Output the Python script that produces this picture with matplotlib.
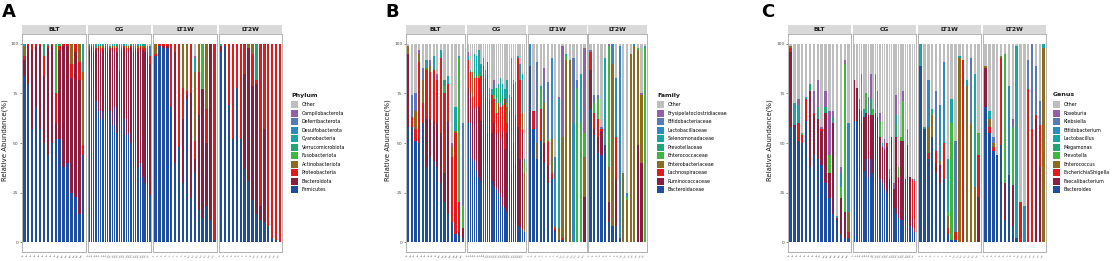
import matplotlib.pyplot as plt
import numpy as np
from matplotlib.patches import Patch

W, H = 1114, 261

groups = ["BLT", "CG", "LT1W", "LT2W"]
group_prefix = ["B", "C", "L", "T"]
group_sizes = [16, 27, 16, 16]
N = sum(group_sizes)

# colours bottom -> top of the stack, then "Other"
taxa_colors = ["#1F4E9C", "#8B1E3F", "#E31A1C", "#8B6B1E", "#3CB83C",
               "#1FA673", "#18A5A5", "#2A8AC4", "#5B79B7", "#9160A8"]
other_color = "#BEBEBE"

# ---------------- Phylum (panel A) ----------------
phylum_names = ["Firmicutes", "Bacteroidota", "Proteobacteria", "Actinobacteriota",
                "Fusobacteriota", "Verrucomicrobiota", "Cyanobacteria",
                "Desulfobacterota", "Deferribacterota", "Campilobacterota"]
phy_firmicutes = ([84, 80, 57, 68, 57, 50, 44, 50, 52, 52, 38, 40, 25, 23, 14, 44] +
                  [89, 86, 78, 71, 66, 62, 66, 60, 67, 66, 59, 68, 55, 64, 45, 62, 54, 55, 50, 37, 50, 38, 40, 33, 30, 26, 24] +
                  [94, 99, 98, 98, 68, 40, 48, 30, 72, 22, 35, 16, 12, 18, 11, 1] +
                  [96, 99, 69, 52, 78, 52, 37, 31, 21, 14, 11, 10, 8, 2, 1, 0])
phy_bacteroidota = ([8, 19, 40, 31, 42, 34, 54, 49, 8, 45, 61, 59, 58, 73, 68, 0] +
                    [8, 12, 18, 26, 32, 34, 31, 38, 29, 31, 39, 29, 41, 22, 52, 36, 42, 42, 48, 59, 47, 58, 58, 64, 66, 67, 66] +
                    [0, 0, 1, 1, 0, 56, 0, 32, 2, 53, 7, 48, 65, 32, 89, 0] +
                    [3, 0, 0, 0, 0, 0, 48, 67, 58, 66, 7, 47, 0, 0, 0, 0])
phy_proteobacteria = ([2, 1, 3, 1, 1, 10, 1, 1, 15, 2, 1, 1, 7, 4, 9, 5] +
                      [2, 1, 2, 1, 1, 2, 1, 1, 2, 1, 1, 1, 2, 1, 1, 1, 2, 1, 1, 2, 1, 2, 1, 1, 2, 3, 4] +
                      [1, 1, 1, 1, 32, 4, 52, 16, 2, 25, 9, 22, 0, 17, 0, 99] +
                      [0, 1, 31, 48, 22, 48, 15, 0, 16, 2, 82, 43, 92, 98, 99, 100])
phy_actinobacteriota = ([5, 0, 0, 0, 0, 0, 0, 0, 0, 0, 0, 0, 10, 0, 9, 37] +
                        [0, 0, 1, 0, 0, 1, 1, 0, 1, 0, 0, 1, 1, 12, 0, 0, 1, 1, 0, 1, 1, 1, 0, 1, 1, 2, 0] +
                        [5, 0, 0, 0, 0, 0, 0, 22, 24, 0, 35, 14, 0, 33, 0, 0] +
                        [0, 0, 0, 0, 0, 0, 0, 2, 5, 0, 0, 0, 0, 0, 0, 0])
phy_fusobacteriota = ([0, 0, 0, 0, 0, 0, 0, 0, 25, 0, 0, 0, 0, 0, 0, 0] +
                      [0] * 27 +
                      [0, 0, 0, 0, 0, 0, 0, 0, 0, 0, 0, 0, 23, 0, 0, 0] +
                      [0] * 16)
phy_verrucomicrobiota = ([0, 0, 0, 0, 0, 6, 1, 0, 0, 1, 0, 0, 0, 0, 0, 0] +
                         [1, 1, 0, 1, 1, 0, 0, 1, 0, 1, 0, 0, 1, 0, 1, 0, 0, 0, 1, 0, 0, 0, 0, 1, 0, 0, 0] +
                         [0] * 16 +
                         [1, 0, 0, 0, 0, 0, 0, 0, 0, 18, 0, 0, 0, 0, 0, 0])
phy_cyanobacteria = ([1, 0, 0, 0, 0, 0, 0, 0, 0, 0, 0, 0, 0, 0, 0, 14] +
                     [0, 0, 1, 1, 0, 1, 1, 0, 1, 0, 1, 1, 0, 1, 1, 1, 1, 0, 0, 1, 1, 1, 1, 0, 1, 1, 0] +
                     [0, 0, 0, 0, 0, 0, 0, 0, 0, 0, 7, 0, 0, 0, 0, 0] +
                     [0] * 16)
phy_desulfobacterota = [0] * N
phy_deferribacterota = [0] * 16 + [0] * 26 + [5] + [0] * 32
phy_campilobacterota = [0] * 16 + [0] * 27 + [0, 0, 0, 0, 0, 0, 0, 0, 0, 0, 1, 0, 0, 0, 0, 0] + [0] * 16

# ---------------- Family (panel B) ----------------
family_names = ["Bacteroidaceae", "Ruminococcaceae", "Lachnospiraceae", "Enterobacteriaceae",
                "Enterococcaceae", "Prevotellaceae", "Selenomonadaceae", "Lactobacillaceae",
                "Bifidobacteriaceae", "Erysipelatoclostridiaceae"]
fam_bacteroidaceae = ([58, 58, 51, 50, 60, 38, 43, 41, 38, 30, 20, 14, 10, 4, 3, 2] +
                      [60, 60, 42, 41, 36, 33, 31, 41, 33, 40, 31, 31, 28, 27, 25, 23, 18, 17, 15, 12, 11, 10, 9, 8, 7, 6, 5] +
                      [89, 57, 42, 51, 40, 30, 32, 5, 1, 1, 0, 0, 0, 0, 0, 0] +
                      [67, 54, 45, 44, 49, 10, 8, 8, 2, 0, 0, 0, 0, 0, 0, 0])
fam_ruminococcaceae = ([37, 0, 0, 0, 0, 24, 19, 20, 22, 25, 15, 47, 0, 0, 2, 5] +
                       [18, 15, 25, 27, 32, 35, 30, 20, 40, 15, 35, 24, 32, 28, 30, 29, 38, 30, 40, 34, 24, 40, 30, 50, 35, 49, 0] +
                       [0, 0, 0, 0, 10, 9, 0, 1, 0, 0, 0, 0, 0, 0, 0, 23] +
                       [20, 3, 8, 12, 0, 10, 0, 24, 0, 0, 0, 0, 0, 49, 40, 0])
fam_lachnospiraceae = ([0, 5, 6, 41, 10, 25, 24, 26, 22, 38, 40, 19, 33, 51, 15, 0] +
                       [14, 11, 6, 15, 16, 15, 23, 28, 10, 36, 6, 19, 12, 10, 15, 16, 13, 25, 5, 20, 38, 30, 25, 35, 40, 2, 0] +
                       [0, 9, 0, 16, 0, 12, 3, 1, 0, 1, 0, 0, 0, 0, 0, 0] +
                       [9, 8, 9, 1, 0, 0, 0, 21, 0, 0, 0, 0, 0, 0, 0, 0])
fam_enterobacteriaceae = ([4, 0, 9, 4, 12, 1, 3, 0, 0, 0, 0, 0, 5, 1, 0, 0] +
                          [0, 0, 13, 0, 0, 0, 0, 0, 0, 0, 0, 0, 0, 0, 0, 0, 0, 0, 8, 0, 0, 0, 0, 0, 0, 8, 30] +
                          [0, 0, 8, 0, 20, 0, 17, 1, 6, 51, 92, 92, 0, 0, 0, 20] +
                          [0, 0, 0, 0, 0, 18, 82, 0, 0, 35, 21, 95, 99, 48, 34, 0])
fam_enterococcaceae = ([0, 0, 0, 0, 0, 0, 0, 0, 0, 0, 4, 0, 0, 0, 73, 11] +
                       [0, 0, 0, 0, 0, 2, 0, 0, 0, 0, 0, 0, 2, 5, 8, 0, 0, 0, 2, 0, 0, 0, 0, 0, 0, 0, 5] +
                       [0, 0, 0, 10, 0, 1, 0, 0, 0, 0, 2, 0, 0, 78, 60, 12] +
                       [0, 5, 10, 0, 0, 61, 0, 0, 0, 0, 2, 0, 0, 1, 0, 98])
fam_prevotellaceae = ([0, 0, 0, 0, 0, 0, 0, 1, 0, 0, 3, 0, 0, 0, 0, 0] +
                      [0, 0, 0, 4, 0, 0, 2, 0, 0, 0, 3, 0, 4, 0, 0, 0, 5, 0, 0, 3, 0, 0, 2, 0, 0, 0, 2] +
                      [0] * 16 +
                      [0] * 16)
fam_selenomonadaceae = ([0, 0, 0, 0, 0, 4, 0, 6, 0, 4, 0, 4, 0, 12, 1, 0] +
                        [2, 1, 0, 8, 10, 12, 4, 3, 4, 0, 3, 3, 0, 8, 2, 15, 6, 5, 12, 5, 20, 2, 13, 1, 8, 20, 0] +
                        [0, 0, 0, 2, 0, 0, 0, 0, 65, 0, 1, 0, 0, 0, 25, 0] +
                        [0, 0, 0, 0, 44, 0, 0, 0, 0, 0, 0, 0, 0, 0, 0, 1])
fam_lactobacillaceae = ([0] * 16 +
                        [0] * 27 +
                        [11, 0, 0, 0, 0, 0, 41, 35, 0, 0, 0, 0, 60, 0, 0, 0] +
                        [0, 0, 0, 0, 0, 0, 10, 30, 97, 0, 2, 0, 1, 0, 0, 0])
fam_bifidobacteriaceae = ([0, 11, 9, 0, 6, 0, 0, 0, 0, 0, 0, 0, 0, 0, 0, 42] +
                          [0, 0, 0, 0, 0, 0, 0, 0, 0, 0, 0, 0, 2, 0, 0, 0, 0, 0, 0, 0, 0, 0, 0, 0, 0, 0, 0] +
                          [0, 0, 41, 0, 11, 29, 0, 0, 0, 0, 0, 0, 33, 4, 0, 0] +
                          [0, 4, 2, 1, 0, 0, 0, 0, 0, 0, 0, 0, 0, 0, 0, 0])
fam_erysipelatoclostridiaceae = ([0, 0, 0, 2, 0, 0, 3, 0, 3, 0, 0, 0, 2, 0, 0, 0] +
                                 [2, 0, 0, 0, 0, 0, 0, 1, 0, 0, 0, 0, 2, 0, 0, 0, 0, 0, 0, 0, 0, 0, 2, 0, 0, 0, 0] +
                                 [0, 0, 0, 0, 7, 0, 0, 0, 1, 46, 0, 0, 0, 0, 0, 43] +
                                 [1, 0, 0, 0, 0, 1, 0, 0, 0, 0, 0, 0, 0, 0, 1, 0])

# ---------------- Genus (panel C) ----------------
genus_names = ["Bacteroides", "Faecalibacterium", "EscherichiaShigella", "Enterococcus",
               "Prevotella", "Megamonas", "Lactobacillus", "Bifidobacterium",
               "Klebsiella", "Roseburia"]
gen_bacteroides = ([58, 58, 51, 50, 61, 38, 44, 42, 39, 30, 22, 14, 11, 4, 2, 2] +
                   [61, 61, 43, 40, 36, 42, 33, 42, 35, 43, 33, 32, 30, 27, 25, 24, 18, 17, 14, 12, 11, 11, 10, 9, 8, 7, 5] +
                   [89, 57, 42, 53, 35, 30, 32, 4, 1, 1, 0, 0, 0, 0, 0, 0] +
                   [68, 55, 46, 44, 49, 11, 34, 8, 2, 0, 0, 0, 0, 0, 0, 0])
gen_faecalibacterium = ([38, 1, 0, 0, 0, 38, 20, 20, 17, 35, 13, 46, 1, 18, 13, 0] +
                        [21, 17, 24, 20, 27, 23, 31, 22, 29, 22, 30, 21, 18, 20, 23, 8, 35, 10, 39, 21, 40, 40, 22, 40, 25, 5, 0] +
                        [0, 0, 0, 0, 5, 9, 0, 0, 0, 0, 0, 0, 0, 0, 0, 23] +
                        [20, 0, 0, 0, 0, 19, 0, 21, 0, 0, 0, 0, 0, 62, 38, 0])
gen_escherichiashigella = ([2, 0, 9, 4, 11, 0, 1, 0, 1, 0, 0, 0, 0, 0, 0, 3] +
                           [0, 0, 0, 6, 0, 0, 0, 0, 0, 0, 0, 0, 0, 0, 2, 0, 0, 0, 0, 0, 0, 0, 0, 0, 0, 20, 26] +
                           [0, 0, 3, 0, 6, 0, 18, 3, 0, 4, 0, 92, 0, 0, 0, 21] +
                           [0, 3, 2, 0, 44, 0, 0, 0, 0, 20, 0, 77, 57, 2, 21, 0])
gen_enterococcus = ([1, 0, 0, 0, 0, 0, 0, 0, 0, 0, 0, 0, 0, 0, 0, 10] +
                    [0] * 27 +
                    [0, 0, 13, 11, 0, 2, 0, 6, 0, 0, 93, 0, 79, 60, 28, 0] +
                    [1, 4, 2, 0, 1, 0, 0, 0, 0, 0, 0, 0, 0, 0, 0, 98])
gen_prevotella = ([0, 0, 0, 1, 0, 0, 0, 0, 0, 0, 9, 0, 0, 6, 75, 0] +
                  [0, 0, 0, 14, 0, 10, 0, 0, 3, 12, 0, 8, 0, 0, 0, 0, 0, 0, 0, 5, 2, 20, 0, 0, 0, 0, 0] +
                  [0, 0, 0, 1, 0, 0, 0, 2, 59, 0, 0, 0, 0, 0, 0, 11] +
                  [0, 0, 0, 0, 0, 65, 0, 29, 0, 0, 0, 0, 0, 0, 0, 0])
gen_megamonas = ([0, 0, 0, 0, 0, 4, 0, 6, 0, 3, 0, 3, 0, 0, 0, 0] +
                 [0, 0, 0, 0, 0, 0, 0, 8, 0, 0, 0, 0, 0, 0, 0, 0, 0, 0, 6, 0, 0, 0, 0, 0, 0, 0, 0] +
                 [0] * 16 +
                 [0] * 16)
gen_lactobacillus = ([0, 11, 9, 0, 1, 0, 0, 0, 0, 0, 0, 0, 1, 0, 0, 1] +
                     [0, 0, 0, 0, 4, 0, 0, 0, 0, 0, 5, 0, 2, 0, 0, 0, 0, 0, 5, 0, 0, 0, 0, 0, 0, 0, 1] +
                     [11, 1, 0, 2, 0, 0, 0, 27, 12, 0, 1, 0, 3, 0, 57, 0] +
                     [0, 4, 0, 0, 0, 0, 0, 0, 97, 0, 0, 0, 0, 0, 0, 2])
gen_bifidobacterium = ([0, 0, 0, 0, 0, 0, 0, 0, 0, 0, 0, 0, 0, 7, 0, 44] +
                       [0] * 27 +
                       [0, 0, 24, 0, 0, 28, 41, 0, 0, 0, 0, 0, 0, 0, 0, 0] +
                       [0, 0, 0, 0, 0, 0, 45, 0, 0, 0, 18, 0, 0, 0, 0, 0])
gen_klebsiella = ([0] * 16 +
                  [0] * 27 +
                  [0, 0, 0, 0, 30, 0, 0, 0, 0, 46, 0, 0, 0, 33, 0, 0] +
                  [0, 0, 3, 0, 0, 0, 0, 0, 0, 0, 0, 15, 43, 25, 12, 0])
gen_roseburia = ([0, 0, 3, 0, 0, 0, 11, 14, 1, 8, 22, 3, 0, 3, 2, 0] +
                 [0, 0, 5, 5, 0, 0, 9, 13, 0, 8, 8, 4, 0, 5, 0, 5, 0, 3, 10, 0, 0, 5, 0, 8, 0, 0, 0] +
                 [0] * 16 +
                 [0, 0, 0, 0, 0, 0, 0, 4, 0, 0, 0, 0, 0, 0, 0, 0])

phylum_values = [phy_firmicutes, phy_bacteroidota, phy_proteobacteria, phy_actinobacteriota,
                 phy_fusobacteriota, phy_verrucomicrobiota, phy_cyanobacteria,
                 phy_desulfobacterota, phy_deferribacterota, phy_campilobacterota]
family_values = [fam_bacteroidaceae, fam_ruminococcaceae, fam_lachnospiraceae, fam_enterobacteriaceae,
                 fam_enterococcaceae, fam_prevotellaceae, fam_selenomonadaceae, fam_lactobacillaceae,
                 fam_bifidobacteriaceae, fam_erysipelatoclostridiaceae]
genus_values = [gen_bacteroides, gen_faecalibacterium, gen_escherichiashigella, gen_enterococcus,
                gen_prevotella, gen_megamonas, gen_lactobacillus, gen_bifidobacterium,
                gen_klebsiella, gen_roseburia]

sample_labels = []
for p, n in zip(group_prefix, group_sizes):
    sample_labels.append([f"{p}{i + 1}" for i in range(n)])

fig = plt.figure(figsize=(W / 100, H / 100), dpi=100)

plot_top, plot_bottom = 34, 252
strip_top = 25


def draw_panel(names, values, legend_title, lefts, width, letter, letter_x, ytitle_x, legend_x):
    vals = np.array(values, dtype=float)
    other = np.clip(100 - vals.sum(axis=0), 0, None)
    stack = np.vstack([vals, other])
    colors = taxa_colors + [other_color]
    start = 0
    for g, (grp, n) in enumerate(zip(groups, group_sizes)):
        ax = fig.add_axes([lefts[g] / W, 1 - plot_bottom / H, width / W, (plot_bottom - plot_top) / H])
        x = np.arange(n)
        bottom = np.zeros(n)
        for k in range(len(stack)):
            seg = stack[k, start:start + n]
            ax.bar(x, seg, bottom=bottom, width=0.62, color=colors[k], linewidth=0)
            bottom += seg
        start += n
        ax.set_xlim(-0.6, n - 0.4)
        ax.set_ylim(-5, 105)
        ax.set_xticks(x)
        ax.set_xticklabels(sample_labels[g], rotation=60, fontsize=1.6, color="#4D4D4D", ha="right")
        ax.tick_params(axis="x", length=1.0, width=0.3, color="#333333", pad=0.5)
        if g == 0:
            ax.set_yticks([0, 25, 50, 75, 100])
            ax.tick_params(axis="y", length=1.5, width=0.4, color="#333333", labelsize=3.2,
                           labelcolor="#4D4D4D", pad=1)
        else:
            ax.set_yticks([])
        for s in ax.spines.values():
            s.set_color("#A8A8A8")
            s.set_linewidth(0.6)
        # facet strip
        sax = fig.add_axes([lefts[g] / W, 1 - plot_top / H, width / W, (plot_top - strip_top) / H])
        sax.set_facecolor("#D9D9D9")
        sax.set_xticks([])
        sax.set_yticks([])
        for s in sax.spines.values():
            s.set_visible(False)
        sax.text(0.5, 0.5, grp, ha="center", va="center", fontsize=4.4, fontweight="bold",
                 color="#1A1A1A", transform=sax.transAxes)

    fig.text(ytitle_x / W, 1 - 140 / H, "Relative Abundance(%)", rotation=90,
             ha="center", va="center", fontsize=5, color="#1A1A1A")
    fig.text(letter_x / W, 1 - 3 / H, letter, ha="left", va="top", fontsize=13, fontweight="bold")

    # legend: title as its own text, keys below
    fig.text(legend_x / W, 1 - 95 / H, legend_title, ha="left", va="center",
             fontsize=4.5, fontweight="bold", color="#1A1A1A")
    handles = [Patch(facecolor=other_color, edgecolor="none", label="Other")]
    for nm, c in zip(names[::-1], taxa_colors[::-1]):
        handles.append(Patch(facecolor=c, edgecolor="none", label=nm))
    fig.legend(handles=handles, loc="upper left",
               bbox_to_anchor=(legend_x / W, 1 - 101.3 / H), frameon=False, fontsize=3.4,
               handlelength=1.48, handleheight=1.9, labelspacing=0.32, handletextpad=0.75,
               borderpad=0, borderaxespad=0)


draw_panel(phylum_names, phylum_values, "Phylum",
           [22, 87.6, 153.2, 218.8], 63.6, "A", 2, 5, 291)
draw_panel(family_names, family_values, "Family",
           [406, 466.8, 527.6, 588.4], 59.0, "B", 385, 388, 657)
draw_panel(genus_names, genus_values, "Genus",
           [788.3, 853.3, 918.3, 983.3], 62.7, "C", 761, 770, 1053)

fig.savefig("out.png", dpi=100)
